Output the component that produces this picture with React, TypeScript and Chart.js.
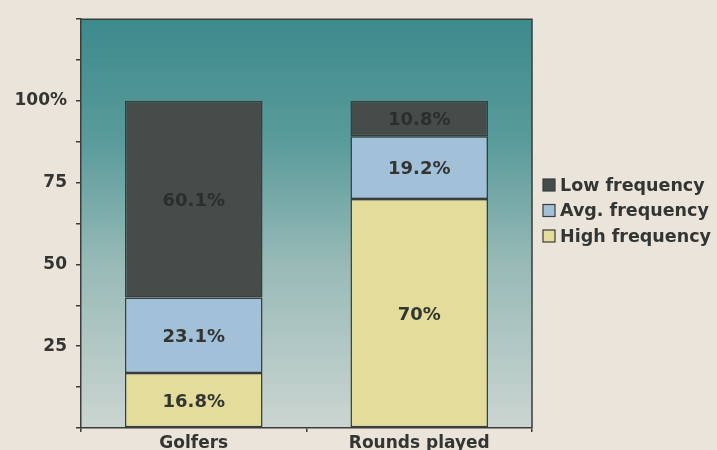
import React, { useEffect, useRef } from "react";
import { Chart, registerables } from "chart.js";

Chart.register(...registerables);

const categories = ["Golfers", "Rounds played"];
const highFrequency = [16.8, 70];
const avgFrequency = [23.1, 19.2];
const lowFrequency = [60.1, 10.8];
const seriesNames = ["High frequency", "Avg. frequency", "Low frequency"];
const yLabelValues = [25, 50, 75, 100];
const yLabelTexts = ["25", "50", "75", "100%"];

const FONT = "'DejaVu Sans', sans-serif";
const TEXT = "#333533";
const colors = ["#e4dc9a", "#a2c0d8", "#454c49"];

const bgPlugin = {
  id: "bgPlugin",
  beforeDraw(chart: any) {
    const { ctx, chartArea: a } = chart;
    ctx.save();
    ctx.fillStyle = "#ebe4da";
    ctx.fillRect(0, 0, chart.width, chart.height);
    const g = ctx.createLinearGradient(0, a.top, 0, a.bottom);
    g.addColorStop(0, "#3d8a8c");
    g.addColorStop(0.3, "#5a9b9b");
    g.addColorStop(0.6, "#98bab7");
    g.addColorStop(1, "#cbd5d1");
    ctx.fillStyle = g;
    ctx.fillRect(a.left, a.top, a.right - a.left, a.bottom - a.top);
    ctx.restore();
  },
  afterDraw(chart: any) {
    const { ctx, chartArea: a } = chart;
    ctx.save();
    ctx.strokeStyle = "#3a3d3b";
    ctx.lineWidth = 1.5;
    ctx.beginPath();
    ctx.moveTo(a.left, a.top);
    ctx.lineTo(a.right, a.top);
    ctx.lineTo(a.right, a.bottom);
    ctx.stroke();

    // legend
    const order = [2, 1, 0];
    ctx.font = `bold 17.5px ${FONT}`;
    ctx.textBaseline = "middle";
    ctx.textAlign = "left";
    order.forEach((di, i) => {
      const ds = chart.data.datasets[di];
      const y = 185 + i * 25.5;
      ctx.fillStyle = ds.backgroundColor;
      ctx.fillRect(543, y - 6, 12, 12);
      ctx.strokeStyle = "#3a3d3b";
      ctx.lineWidth = 1.2;
      ctx.strokeRect(543, y - 6, 12, 12);
      ctx.fillStyle = TEXT;
      ctx.fillText(ds.label, 560, y + 1);
    });
    ctx.restore();
  },
  afterDatasetsDraw(chart: any) {
    const { ctx } = chart;
    ctx.save();
    ctx.font = `bold 18px ${FONT}`;
    ctx.textAlign = "center";
    ctx.textBaseline = "middle";
    chart.data.datasets.forEach((ds: any, di: number) => {
      const meta = chart.getDatasetMeta(di);
      meta.data.forEach((bar: any, i: number) => {
        const v = ds.data[i];
        ctx.fillStyle = di === 2 ? "#2a2f2d" : TEXT;
        ctx.fillText(`${v}%`, bar.x, (bar.y + bar.base) / 2 + 2);
      });
    });
    ctx.restore();
  },
};

export default function App() {
  const ref = useRef<HTMLCanvasElement>(null);
  useEffect(() => {
    document.body.style.margin = "0";
    const chart = new Chart(ref.current!, {
      type: "bar",
      data: {
        labels: categories,
        datasets: [
          { label: seriesNames[0], data: highFrequency, backgroundColor: colors[0] },
          { label: seriesNames[1], data: avgFrequency, backgroundColor: colors[1] },
          { label: seriesNames[2], data: lowFrequency, backgroundColor: colors[2] },
        ].map((d) => ({
          ...d,
          borderColor: "#3a3d3b",
          borderWidth: 1.5,
          borderSkipped: false,
          categoryPercentage: 1,
          barPercentage: 0.61,
        })),
      },
      options: {
        animation: false,
        responsive: false,
        layout: { padding: { top: 13, right: 185, left: 0, bottom: 0 } },
        plugins: { legend: { display: false }, tooltip: { enabled: false } },
        scales: {
          x: {
            stacked: true,
            grid: { drawOnChartArea: false, drawTicks: true, tickLength: 4, color: "#3a3d3b", lineWidth: 1.5 },
            border: { display: true, color: "#3a3d3b", width: 1.5 },
            ticks: { color: TEXT, font: { family: FONT, size: 17, weight: "bold" }, padding: 1 },
            afterFit: (s: any) => { s.height = 22; },
          },
          y: {
            stacked: true,
            min: 0,
            max: 125,
            grid: { drawOnChartArea: false, drawTicks: true, tickLength: 5, color: "#3a3d3b", lineWidth: 1.5 },
            border: { display: true, color: "#3a3d3b", width: 1.5 },
            ticks: {
              stepSize: 12.5,
              autoSkip: false,
              padding: 9,
              color: TEXT,
              font: { family: FONT, size: 17, weight: "bold" },
              callback: (v: any) => {
                const idx = yLabelValues.indexOf(Number(v));
                return idx >= 0 ? yLabelTexts[idx] : "";
              },
            },
            afterFit: (s: any) => { s.width = 81; },
          },
        },
      },
      plugins: [bgPlugin],
    });
    return () => chart.destroy();
  }, []);
  return <canvas ref={ref} width={717} height={450} style={{ display: "block" }} />;
}
